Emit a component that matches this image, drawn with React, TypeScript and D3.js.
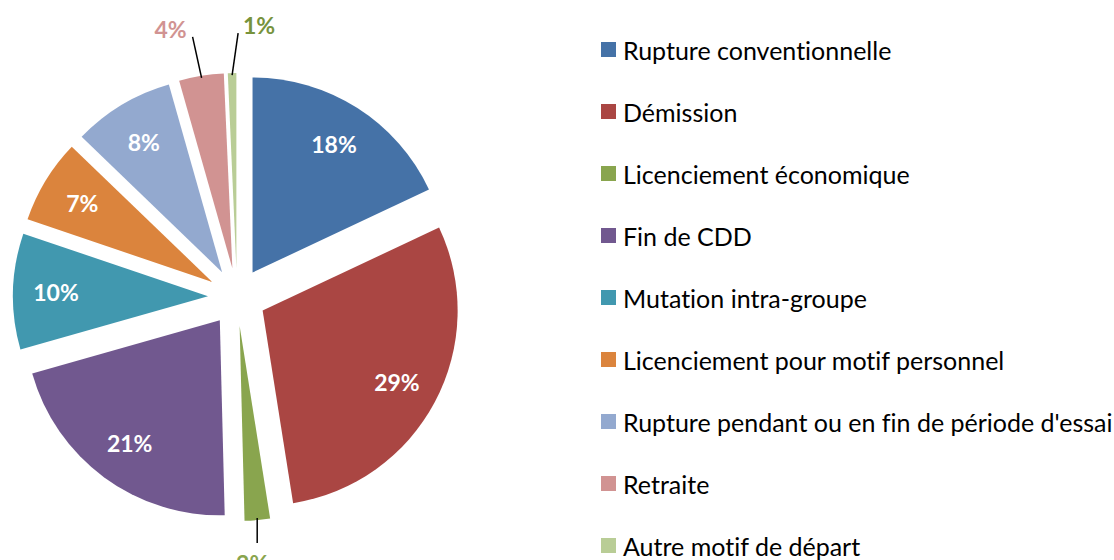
import React from 'react';
import * as d3 from 'd3';

const categories = [
  'Rupture conventionnelle',
  'Démission',
  'Licenciement économique',
  'Fin de CDD',
  'Mutation intra-groupe',
  'Licenciement pour motif personnel',
  "Rupture pendant ou en fin de période d'essai",
  'Retraite',
  'Autre motif de départ',
];
const values = [18.0, 29.5, 2.1, 21.0, 9.6, 7.0, 8.4, 3.7, 0.7];
const valueLabels = ['18%', '29%', '2%', '21%', '10%', '7%', '8%', '4%', '1%'];
const colors = ['#4572A7', '#AA4643', '#89A54E', '#71588F', '#4198AF', '#DB843D', '#93A9CF', '#D19392', '#B9CD96'];
const labelColorsOutside: Record<number, string> = { 2: '#89A54E', 7: '#D19392', 8: '#77933C' };

const W = 1114;
const H = 560;
const CX = 237;
const CY = 297;
const R = 195;
const EXPLODE = 29;
const LABEL_R = 152;

// leader layout for outside labels (offsets relative to the arc point / line end)
const outside: Record<number, { end: [number, number]; label: [number, number] }> = {
  2: { end: [0, 25], label: [-5, 20] },
  7: { end: [-9, -41], label: [-22, -8] },
  8: { end: [6, -42], label: [21, -8] },
};

const noLig = { fontVariantLigatures: 'none' as const, fontFeatureSettings: '"liga" 0, "clig" 0' };

export default function App() {
  const pie = d3.pie<number>().sort(null).value((d) => d)(values);
  const arc = d3.arc<d3.PieArcDatum<number>>().innerRadius(0).outerRadius(R);

  return (
    <svg width={W} height={H} style={{ position: 'absolute', left: 0, top: 0, background: '#fff' }}>
      <g>
        {pie.map((p, i) => {
          const mid = (p.startAngle + p.endAngle) / 2;
          const ox = CX + EXPLODE * Math.sin(mid);
          const oy = CY - EXPLODE * Math.cos(mid);
          return (
            <path key={i} d={arc(p) || ''} fill={colors[i]} transform={`translate(${ox},${oy})`} />
          );
        })}
        {pie.map((p, i) => {
          const mid = (p.startAngle + p.endAngle) / 2;
          const ox = CX + EXPLODE * Math.sin(mid);
          const oy = CY - EXPLODE * Math.cos(mid);
          const o = outside[i];
          if (o) {
            const ax = ox + (R - 2) * Math.sin(mid);
            const ay = oy - (R - 2) * Math.cos(mid);
            const ex = ax + o.end[0];
            const ey = ay + o.end[1];
            const lx = ex + o.label[0];
            const ly = ey + o.label[1];
            return (
              <g key={'l' + i}>
                <line x1={ax} y1={ay} x2={ex} y2={ey} stroke="#000" strokeWidth={1.5} />
                <text
                  x={lx}
                  y={ly}
                  textAnchor="middle"
                  dominantBaseline="central"
                  fontFamily="Lato, 'Open Sans', sans-serif"
                  fontWeight={700}
                  fontSize={23}
                  fill={labelColorsOutside[i]}
                >
                  {valueLabels[i]}
                </text>
              </g>
            );
          }
          const lx = ox + LABEL_R * Math.sin(mid);
          const ly = oy - LABEL_R * Math.cos(mid);
          return (
            <text
              key={'l' + i}
              x={lx}
              y={ly}
              textAnchor="middle"
              dominantBaseline="central"
              fontFamily="Lato, 'Open Sans', sans-serif"
              fontWeight={700}
              fontSize={23}
              fill="#fff"
            >
              {valueLabels[i]}
            </text>
          );
        })}
      </g>
      <g>
        {categories.map((c, i) => {
          const y = 49.5 + i * 62;
          return (
            <g key={c}>
              <rect x={601} y={y - 7.5} width={15} height={15} fill={colors[i]} />
              <text
                x={623}
                y={y}
                dominantBaseline="central"
                fontFamily="Lato, 'Open Sans', sans-serif"
                fontSize={25}
                fill="#000"
                style={noLig}
              >
                {c}
              </text>
            </g>
          );
        })}
      </g>
    </svg>
  );
}
